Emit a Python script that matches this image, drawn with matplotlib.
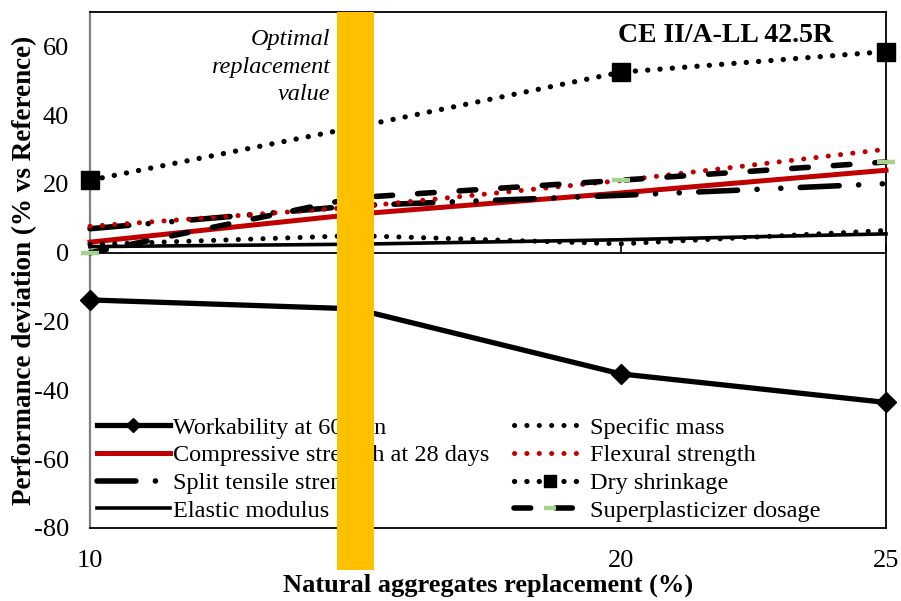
import matplotlib
matplotlib.use("Agg")
import matplotlib.pyplot as plt

plt.rcParams['font.family'] = ['Liberation Serif', 'DejaVu Serif']
plt.rcParams['lines.scale_dashes'] = False
plt.rcParams['axes.unicode_minus'] = False

# ---------------- data ----------------
replacement = [10, 15, 20, 25]
tick_values = [10, 20, 25]
tick_labels = ["10", "20", "25"]
optimal_value = 15

workability = [-13.7, -16.3, -35.2, -43.5]
compressive = [3.1, 11.2, 17.4, 24.0]
split_tensile = [7.0, 13.7, 16.7, 20.1]
elastic = [1.8, 2.5, 3.8, 5.5]
specific_mass = [2.4, 5.0, 2.6, 6.5]
flexural = [7.7, 13.3, 21.0, 30.1]
dry_shrinkage = [21.1, 36.5, 52.5, 58.5]
superplasticizer = [0.0, 16.0, 21.1, 26.4]

labels = ["Workability at 60 min", "Compressive strength at 28 days",
          "Split tensile strength", "Elastic modulus", "Specific mass",
          "Flexural strength", "Dry shrinkage", "Superplasticizer dosage"]

RED = "#C00000"
GREEN = "#A9D18E"
YELLOW = "#FFC000"

fig = plt.figure(figsize=(9.01, 6.01), dpi=100)
ax = fig.add_axes([90/901, 1-528/601, (886-90)/901, (528-12)/601])

common = dict(clip_on=False, zorder=3)
ax.plot(replacement, workability, color="black", lw=3.8, marker="D", ms=10,
        solid_joinstyle="miter", label=labels[0], **common)
ax.plot(replacement, compressive, color=RED, lw=3.6, label=labels[1], **common)
ax.plot(replacement, split_tensile, color="black", lw=4.0,
        dashes=(28, 14, 0.1, 17, 0.1, 14), dash_capstyle="round",
        label=labels[2], **common)
ax.plot(replacement, elastic, color="black", lw=2.6, label=labels[3], **common)
ax.plot(replacement, specific_mass, color="black", lw=3.6,
        dashes=(0.1, 8.8), dash_capstyle="round", label=labels[4], **common)
ax.plot(replacement, flexural, color=RED, lw=3.6,
        dashes=(0.1, 8.8), dash_capstyle="round", label=labels[5], **common)
ax.plot(replacement, dry_shrinkage, color="black", lw=3.8,
        dashes=(0.1, 8.8), dash_capstyle="round", marker="s", ms=13,
        label=labels[6], **common)
ax.plot(replacement, superplasticizer, color="black", lw=4.0,
        dashes=(12, 18), dash_capstyle="round", marker="_", ms=13, mew=3.2,
        mec=GREEN, mfc=GREEN, label=labels[7], **common)

ax.set_xlim(10, 25)
ax.set_ylim(-80, 70)
ax.set_yticks(range(-80, 61, 20))
ax.set_xticks(tick_values)
ax.set_xticklabels(tick_labels)
ax.tick_params(axis="y", length=0, pad=15, labelsize=19)
ax.tick_params(axis="x", length=0, pad=16, labelsize=19)

for s in ["top", "right", "bottom"]:
    ax.spines[s].set_color("black")
    ax.spines[s].set_linewidth(1.3)
ax.spines["left"].set_color("#808080")
ax.spines["left"].set_linewidth(1.6)

# zero axis line with tick marks
ax.axhline(0, color="black", lw=1.3, zorder=2)
sec = ax.secondary_xaxis(80/150)
sec.set_xticks(tick_values)
sec.set_xticklabels([])
sec.tick_params(axis="x", direction="out", length=6, width=1.2)
for s in sec.spines.values():
    s.set_visible(False)

ax.set_xlabel("Natural aggregates replacement (%)", fontsize=19, fontweight="bold",
              labelpad=1)
ax.set_ylabel("Performance deviation (% vs Reference)", fontsize=19.5,
              fontweight="bold", labelpad=-2)

leg = ax.legend(ncol=2, loc="lower left", bbox_to_anchor=(-0.010, -0.016),
                frameon=False, fontsize=17.5, handlelength=3.0, handletextpad=0.15,
                columnspacing=1.0, labelspacing=0.23, borderaxespad=0.2,
                markerscale=0.7)
leg.set_zorder(5)

ax.axvspan(optimal_value - 0.35, optimal_value + 0.35, ymin=-0.081, ymax=1,
           color=YELLOW, lw=0, clip_on=False, zorder=10)

ax.text(0.3015, 0.893, "Optimal\nreplacement\nvalue", transform=ax.transAxes,
        ha="right", va="center", fontsize=17.5, style="italic", linespacing=1.42,
        zorder=11)
ax.text(0.798, 0.955, "CE II/A-LL 42.5R", transform=ax.transAxes, ha="center",
        va="center", fontsize=20, fontweight="bold", zorder=11)

fig.savefig("out.png", dpi=100)
